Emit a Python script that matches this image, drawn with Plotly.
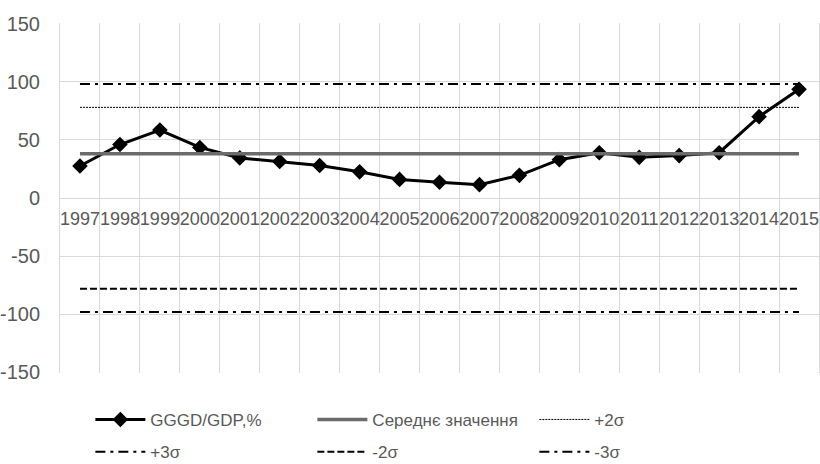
import plotly.graph_objects as go

years = [str(y) for y in range(1997, 2016)]
gggd_gdp = [27.5, 46, 58.5, 43.5, 34.5, 31.5, 28, 22.5, 16, 13.5, 11.5, 19.5,
            33, 39, 35, 36.5, 39, 70, 93.5]
mean_value = 38
plus_2sigma = 78
plus_3sigma = 98
minus_2sigma = -78
minus_3sigma = -98
y_ticks = [-150, -100, -50, 0, 50, 100, 150]

FONT = "Liberation Sans, Arial, sans-serif"
TXT = "#595959"
GRID = "#d9d9d9"
DASHDOT = "10px,5px,3px,5px"

fig = go.Figure()

fig.add_trace(go.Scatter(
    x=years, y=gggd_gdp, name="GGGD/GDP,%", mode="lines+markers",
    line=dict(color="black", width=3),
    marker=dict(symbol="diamond", size=12, color="black"),
    legend="legend",
))
fig.add_trace(go.Scatter(
    x=years, y=[mean_value] * len(years), name="Середнє значення", mode="lines",
    line=dict(color="#6b6b6b", width=3.5),
    legend="legend",
))
fig.add_trace(go.Scatter(
    x=years, y=[plus_2sigma] * len(years), name="+2σ", mode="lines",
    line=dict(color="black", width=1, dash="2px,1px"),
    legend="legend",
))
fig.add_trace(go.Scatter(
    x=years, y=[plus_3sigma] * len(years), name="+3σ", mode="lines",
    line=dict(color="black", width=2, dash=DASHDOT),
    legend="legend2",
))
fig.add_trace(go.Scatter(
    x=years, y=[minus_2sigma] * len(years), name="-2σ", mode="lines",
    line=dict(color="black", width=2, dash="7px,3px"),
    legend="legend2",
))
fig.add_trace(go.Scatter(
    x=years, y=[minus_3sigma] * len(years), name="-3σ", mode="lines",
    line=dict(color="black", width=2, dash=DASHDOT),
    legend="legend2",
))

legend_common = dict(
    orientation="h", x=0.04, xanchor="left", yanchor="middle",
    entrywidth=157, entrywidthmode="pixels",
    font=dict(family=FONT, size=17, color=TXT),
    bgcolor="rgba(0,0,0,0)", itemwidth=50,
)

fig.update_layout(
    width=820, height=464,
    margin=dict(l=60, r=1, t=23, b=91, autoexpand=False),
    paper_bgcolor="white", plot_bgcolor="white",
    font=dict(family=FONT, color=TXT, size=18),
    showlegend=True,
    legend=dict(legend_common, y=-0.134),
    legend2=dict(legend_common, y=-0.226),
    xaxis=dict(
        type="category", tickson="boundaries", range=[-0.5, len(years) - 0.5],
        showgrid=True, gridcolor=GRID, gridwidth=1,
        showline=False, ticks="", zeroline=False,
        anchor="free", position=0.5, automargin=False,
        tickfont=dict(family=FONT, size=18, color=TXT),
        tickangle=0, ticklabelstandoff=8,
    ),
    yaxis=dict(
        range=[-150.6, 150.6], tickvals=y_ticks, ticktext=[str(v) for v in y_ticks],
        showgrid=True, gridcolor=GRID, gridwidth=1,
        zeroline=False, ticks="", automargin=False,
        showline=True, mirror=True, linecolor=GRID, linewidth=1,
        tickfont=dict(family=FONT, size=20, color=TXT),
        ticklabelstandoff=15,
    ),
)

fig.write_html("out.html")
